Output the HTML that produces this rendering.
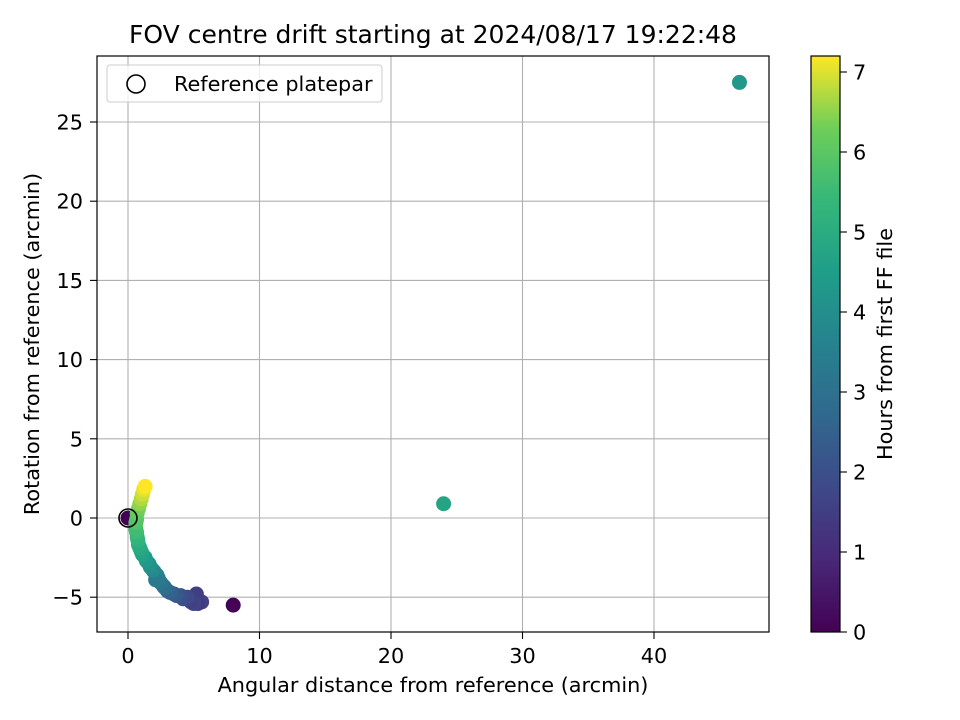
<!DOCTYPE html>
<html><head><meta charset="utf-8">
<style>
html,body{margin:0;padding:0;background:#fff;}
svg{display:block;font-family:"DejaVu Sans","Liberation Sans",sans-serif;}
</style></head>
<body>
<svg id="chart" width="960" height="720" viewBox="0 0 960 720">
<defs>
<linearGradient id="vir" x1="0" y1="1" x2="0" y2="0">
<stop offset="0" stop-color="#440154"/><stop offset="0.125" stop-color="#482878"/>
<stop offset="0.25" stop-color="#3e4989"/><stop offset="0.375" stop-color="#31688e"/>
<stop offset="0.5" stop-color="#26828e"/><stop offset="0.625" stop-color="#1f9e89"/>
<stop offset="0.75" stop-color="#35b779"/><stop offset="0.875" stop-color="#6ece58"/>
<stop offset="1" stop-color="#fde725"/>
</linearGradient>
<clipPath id="pc"><rect x="97" y="56" width="672" height="576"/></clipPath>
</defs>
<text x="433" y="43" font-size="25" text-anchor="middle">FOV centre drift starting at 2024/08/17 19:22:48</text>
<g id="grid"></g>
<g id="pts" clip-path="url(#pc)"></g>
<g id="axes"></g>
<text x="433" y="692" font-size="20.8" text-anchor="middle">Angular distance from reference (arcmin)</text>
<text transform="translate(39,344) rotate(-90)" font-size="20.8" text-anchor="middle">Rotation from reference (arcmin)</text>
<g>
<rect x="107" y="65" width="275" height="37" rx="3" fill="#fff" fill-opacity="0.8" stroke="#ccc"/>
<circle cx="136" cy="84" r="9" fill="none" stroke="#000" stroke-width="1.6"/>
<text x="174" y="91" font-size="20.8">Reference platepar</text>
</g>
<rect x="811" y="56" width="29" height="576" fill="url(#vir)" stroke="#000" stroke-width="1.2"/>
<g id="cbticks"></g>
<text transform="translate(892,344) rotate(-90)" font-size="20.8" text-anchor="middle">Hours from first FF file</text>
</svg>
<script>
const xs=[0,8,5.6,5.3,5.2,5.0,4.8,4.5,4.2,4.0,3.7,3.5,3.2,3.0,2.8,2.7,2.5,2.4,2.3,2.2,2.0,2.1,1.9,1.7,1.6,1.4,1.3,1.1,1.0,0.9,0.8,0.75,0.7,0.65,0.6,0.6,0.65,0.7,0.8,0.9,1.0,1.1,1.2,1.3,24,46.5];
const ys=[0,-5.5,-5.3,-5.4,-4.8,-5.4,-5.3,-5.0,-5.1,-4.9,-4.9,-4.8,-4.7,-4.6,-4.4,-4.3,-4.1,-4.0,-3.8,-3.6,-3.4,-3.9,-3.3,-3.1,-2.9,-2.7,-2.5,-2.3,-2.1,-1.9,-1.7,-1.4,-1.2,-0.9,-0.7,-0.3,-0.1,0.3,0.6,0.9,1.2,1.5,1.8,2.0,0.9,27.5];
const hours=[0,0.05,1.6,1.4,1.5,1.7,1.6,1.8,1.9,2.0,2.2,2.3,2.5,2.6,2.8,2.9,3.1,3.2,3.4,3.5,3.7,3.3,3.8,4.0,4.1,4.3,4.4,4.6,4.7,4.9,5.0,5.2,5.3,5.5,5.6,5.8,5.9,6.1,6.3,6.5,6.7,6.9,7.05,7.2,4.7,4.3];
const xTicks=[0,10,20,30,40];
const yTicks=[-5,0,5,10,15,20,25];
const cTicks=[0,1,2,3,4,5,6,7];
const X=v=>128+v*13.15, Y=v=>518-v*15.84, C=v=>632-v*80;
const NS="http://www.w3.org/2000/svg";
function mk(t,a,p){const e=document.createElementNS(NS,t);for(const k in a)e.setAttribute(k,a[k]);p.appendChild(e);return e;}
const stops=[[68,1,84],[72,40,120],[62,73,137],[49,104,142],[38,130,142],[31,158,137],[53,183,121],[110,206,88],[253,231,37]];
function vir(t){t=Math.max(0,Math.min(1,t))*8;const i=Math.min(7,Math.floor(t)),f=t-i;const a=stops[i],b=stops[i+1];return `rgb(${a.map((v,k)=>Math.round(v+(b[k]-v)*f)).join(',')})`;}
const lab=v=>v<0?'\u2212'+(-v):String(v);
const g=document.getElementById('grid'),ax=document.getElementById('axes'),pt=document.getElementById('pts'),cb=document.getElementById('cbticks');
xTicks.forEach(v=>{
 const l=mk('line',{x1:X(v),x2:X(v),y1:56,y2:632,stroke:'#b0b0b0','stroke-width':1.1},g);
 
 
 mk('line',{x1:X(v),x2:X(v),y1:632,y2:639,stroke:'#000','stroke-width':1.1},ax);
 const t=mk('text',{x:X(v),y:663,'font-size':20.8,'text-anchor':'middle'},ax);t.textContent=lab(v);
 
 
});
yTicks.forEach(v=>{
 const l=mk('line',{x1:97,x2:769,y1:Y(v),y2:Y(v),stroke:'#b0b0b0','stroke-width':1.1},g);
 
 
 mk('line',{x1:90,x2:97,y1:Y(v),y2:Y(v),stroke:'#000','stroke-width':1.1},ax);
 const t=mk('text',{x:83,y:Y(v)+7.5,'font-size':20.8,'text-anchor':'end'},ax);t.textContent=lab(v);
 
 
});
const fr=mk('rect',{x:97,y:56,width:672,height:576,fill:'none',stroke:'#000','stroke-width':1.2},ax);


xs.forEach((x,i)=>{
 const c=mk('circle',{cx:X(x),cy:Y(ys[i]),r:7.5,fill:vir(hours[i]/7.2)},pt);
 
 
});
const ref=mk('circle',{cx:X(0),cy:Y(0),r:9,fill:'none',stroke:'#000','stroke-width':1.6},pt);


cTicks.forEach(v=>{
 mk('line',{x1:840,x2:847,y1:C(v),y2:C(v),stroke:'#000','stroke-width':1.1},cb);
 const t=mk('text',{x:853,y:C(v)+7.5,'font-size':20.8},cb);t.textContent=v;
 
 
});
</script>
</body></html>
